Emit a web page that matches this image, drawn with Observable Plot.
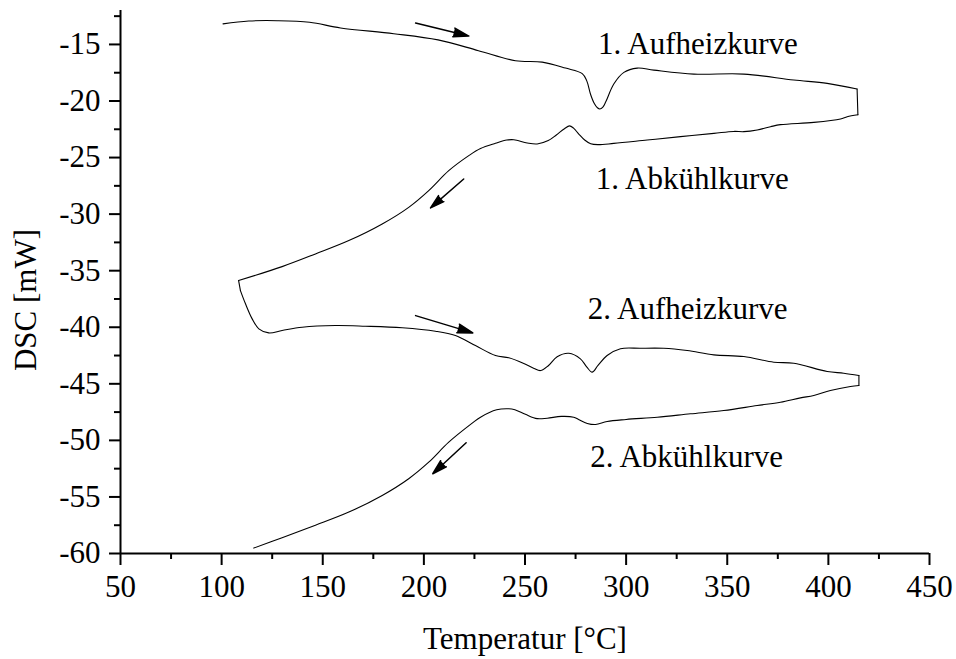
<!DOCTYPE html>
<html>
<head>
<meta charset="utf-8">
<script src="https://cdn.jsdelivr.net/npm/d3@7"></script>
<script src="https://cdn.jsdelivr.net/npm/@observablehq/plot@0.6"></script>
<style>
  html, body { margin: 0; padding: 0; background: #fff; }
</style>
</head>
<body>
<div id="chart"></div>
<script>
// DSC thermogram: two heating / cooling cycles, heat flow (mW) against temperature (°C)

// 1st heating run
const heat1T = [100.7, 113.4, 127.5, 143.5, 158.8, 185.1, 207, 227, 245.3, 258.5, 270, 278.3, 280.5, 282.4, 284.2, 285.8, 287, 288.5, 290, 293.9, 298.9, 305.5, 313.7, 333.5, 358.2, 382.9, 399.4, 414.2];
const heat1Q = [-13.18, -12.93, -12.9, -13.04, -13.54, -14.05, -14.6, -15.55, -16.44, -16.56, -17.09, -17.58, -18.2, -19.4, -20.2, -20.6, -20.71, -20.55, -20.05, -18.5, -17.47, -17.09, -17.27, -17.62, -17.62, -18.15, -18.44, -18.94];

// 1st cooling run
const cool1T = [414.6, 409.3, 406, 392.8, 376.3, 371.4, 364.8, 358.2, 353.2, 343.4, 326.9, 310.4, 293.9, 286, 282.5, 279.5, 276.5, 274, 272, 269.5, 265.5, 261.5, 256, 251.1, 244.5, 241, 235.4, 228, 222.2, 212.3, 202.4, 192.5, 179.4, 162.9, 146.4, 129.9, 108.4];
const cool1Q = [-21.21, -21.39, -21.59, -21.89, -22.09, -22.27, -22.56, -22.71, -22.69, -22.86, -23.15, -23.45, -23.75, -23.86, -23.78, -23.45, -22.9, -22.4, -22.2, -22.45, -23.0, -23.5, -23.8, -23.71, -23.42, -23.45, -23.74, -24.2, -24.83, -26.16, -27.92, -29.4, -30.87, -32.34, -33.52, -34.64, -35.87];

// 2nd heating run
const heat2T = [109.3, 111.8, 115.1, 118.4, 123.3, 129.9, 139.8, 156.3, 171.1, 189.3, 205.7, 215.6, 225.5, 235.4, 242, 249.4, 254.5, 257.7, 261.5, 265.9, 271.7, 277.4, 280.5, 283.2, 286, 290.6, 297.2, 307.1, 318.6, 330.2, 343.4, 358.2, 373, 382.9, 399.4, 407.6, 415.1];
const heat2Q = [-36.76, -37.93, -39.26, -40.14, -40.5, -40.29, -40.0, -39.85, -39.91, -40.05, -40.35, -40.73, -41.62, -42.5, -42.7, -43.2, -43.65, -43.83, -43.4, -42.6, -42.3, -42.79, -43.5, -43.97, -43.4, -42.5, -41.9, -41.86, -41.86, -42.06, -42.44, -42.59, -43.09, -43.18, -43.91, -44.06, -44.27];

// 2nd cooling run
const cool2T = [415.1, 410.9, 401, 392.8, 386.2, 376.3, 364.8, 348.3, 331.8, 315.4, 300, 290.6, 284.9, 280.8, 276.5, 274.1, 268, 261, 256, 250.2, 245, 242, 236, 228, 223.9, 212.3, 202.4, 192.5, 179.4, 162.9, 146.4, 129.9, 115.9];
const cool2Q = [-45.15, -45.24, -45.59, -46.03, -46.24, -46.63, -46.92, -47.36, -47.65, -47.95, -48.15, -48.33, -48.6, -48.5, -48.15, -47.95, -47.88, -48.04, -48.08, -47.7, -47.3, -47.21, -47.3, -47.95, -48.48, -50.16, -51.93, -53.39, -54.87, -56.34, -57.5, -58.6, -59.52];

// Curve annotations (baseline anchor, data units)
const labelText = ["1. Aufheizkurve", "1. Abkühlkurve", "2. Aufheizkurve", "2. Abkühlkurve"];
const labelT = [335.5, 332.7, 330.4, 329.9];
const labelQ = [-15.85, -27.77, -39.26, -52.37];

// Direction arrows (tail -> tip, data units)
const arrowT1 = [195.9, 219.7, 195.9, 220.9];
const arrowQ1 = [-13.11, -26.89, -38.97, -50.21];
const arrowT2 = [222.2, 203.3, 224.2, 204.4];
const arrowQ2 = [-14.26, -29.45, -40.5, -52.95];

// Axis ticks
const xMajor = [50, 100, 150, 200, 250, 300, 350, 400, 450];
const xMinor = [75, 125, 175, 225, 275, 325, 375, 425];
const yMajor = [-15, -20, -25, -30, -35, -40, -45, -50, -55, -60];
const yMinor = [-12.5, -17.5, -22.5, -27.5, -32.5, -37.5, -42.5, -47.5, -52.5, -57.5];

// Each run is its own smooth piece; the turning points between runs are straight joins
const runs = [[heat1T, heat1Q], [cool1T, cool1Q], [heat2T, heat2Q], [cool2T, cool2Q]];
const rows = [];
runs.forEach(([T, Q], s) => T.forEach((t, i) => rows.push({t, q: Q[i], piece: `run${s}`})));
for (let s = 0; s < runs.length - 1; s++) {
  const [T0, Q0] = runs[s], [T1, Q1] = runs[s + 1];
  rows.push({t: T0[T0.length - 1], q: Q0[Q0.length - 1], piece: `turn${s}`});
  rows.push({t: T1[0], q: Q1[0], piece: `turn${s}`});
}

const FONT = "Liberation Serif";
const FONT_SIZE = 31;
const W = 956, H = 659;
const M = {top: 10, right: 27, bottom: 106, left: 120};
const frameW = W - M.left - M.right;
const frameH = H - M.top - M.bottom;
const minorLen = 6;

const chart = Plot.plot({
  width: W,
  height: H,
  marginTop: M.top,
  marginRight: M.right,
  marginBottom: M.bottom,
  marginLeft: M.left,
  style: {background: "white", color: "black", overflow: "visible"},
  x: {domain: [50, 450], ticks: xMajor, tickSize: 12, tickPadding: 9, label: null},
  y: {domain: [-60, -12], ticks: yMajor, tickSize: 11, tickPadding: 9, label: null, tickFormat: d => String(d)},
  marks: [
    // minor ticks, outside the frame
    Plot.tickX(xMinor, {x: d => d, insetTop: frameH - minorLen, dy: minorLen, strokeWidth: 2, stroke: "black"}),
    Plot.tickY(yMinor, {y: d => d, insetRight: frameW - minorLen, dx: -minorLen, strokeWidth: 2, stroke: "black"}),
    // axis lines
    Plot.ruleX([50], {strokeWidth: 2, stroke: "black"}),
    Plot.ruleY([-60], {strokeWidth: 2, stroke: "black"}),
    // DSC trace
    Plot.line(rows, {x: "t", y: "q", z: "piece", curve: "catmull-rom", stroke: "black", strokeWidth: 1.1}),
    // scan direction arrows
    Plot.arrow(arrowT1, {
      x1: arrowT1, y1: arrowQ1, x2: arrowT2, y2: arrowQ2,
      stroke: "black", fill: "black", strokeWidth: 1.5, headLength: 16, headAngle: 32
    }),
    Plot.text(labelText, {x: labelT, y: labelQ, text: labelText, lineAnchor: "bottom", textAnchor: "middle", fill: "black", fontSize: FONT_SIZE, fontFamily: FONT}),
    Plot.text(["Temperatur [°C]"], {frameAnchor: "bottom", lineAnchor: "bottom", textAnchor: "middle", dy: 95, fill: "black", fontSize: FONT_SIZE, fontFamily: FONT}),
    Plot.text(["DSC [mW]"], {frameAnchor: "left", rotate: -90, lineAnchor: "bottom", textAnchor: "middle", dx: -85, dy: 18, fill: "black", fontSize: FONT_SIZE, fontFamily: FONT})
  ]
});

// Serif tick labels and heavier major ticks
const svg = d3.select(chart);
svg.selectAll('g[aria-label*="axis"]').attr("font-family", FONT).attr("font-size", FONT_SIZE);
svg.selectAll('g[aria-label*="axis"] text').attr("font-family", FONT).attr("font-size", FONT_SIZE).attr("fill", "black");
svg.selectAll('g[aria-label*="axis"] line, g[aria-label*="axis"] path').attr("stroke-width", 2).attr("stroke", "black");

document.getElementById("chart").appendChild(chart);
</script>
</body>
</html>
